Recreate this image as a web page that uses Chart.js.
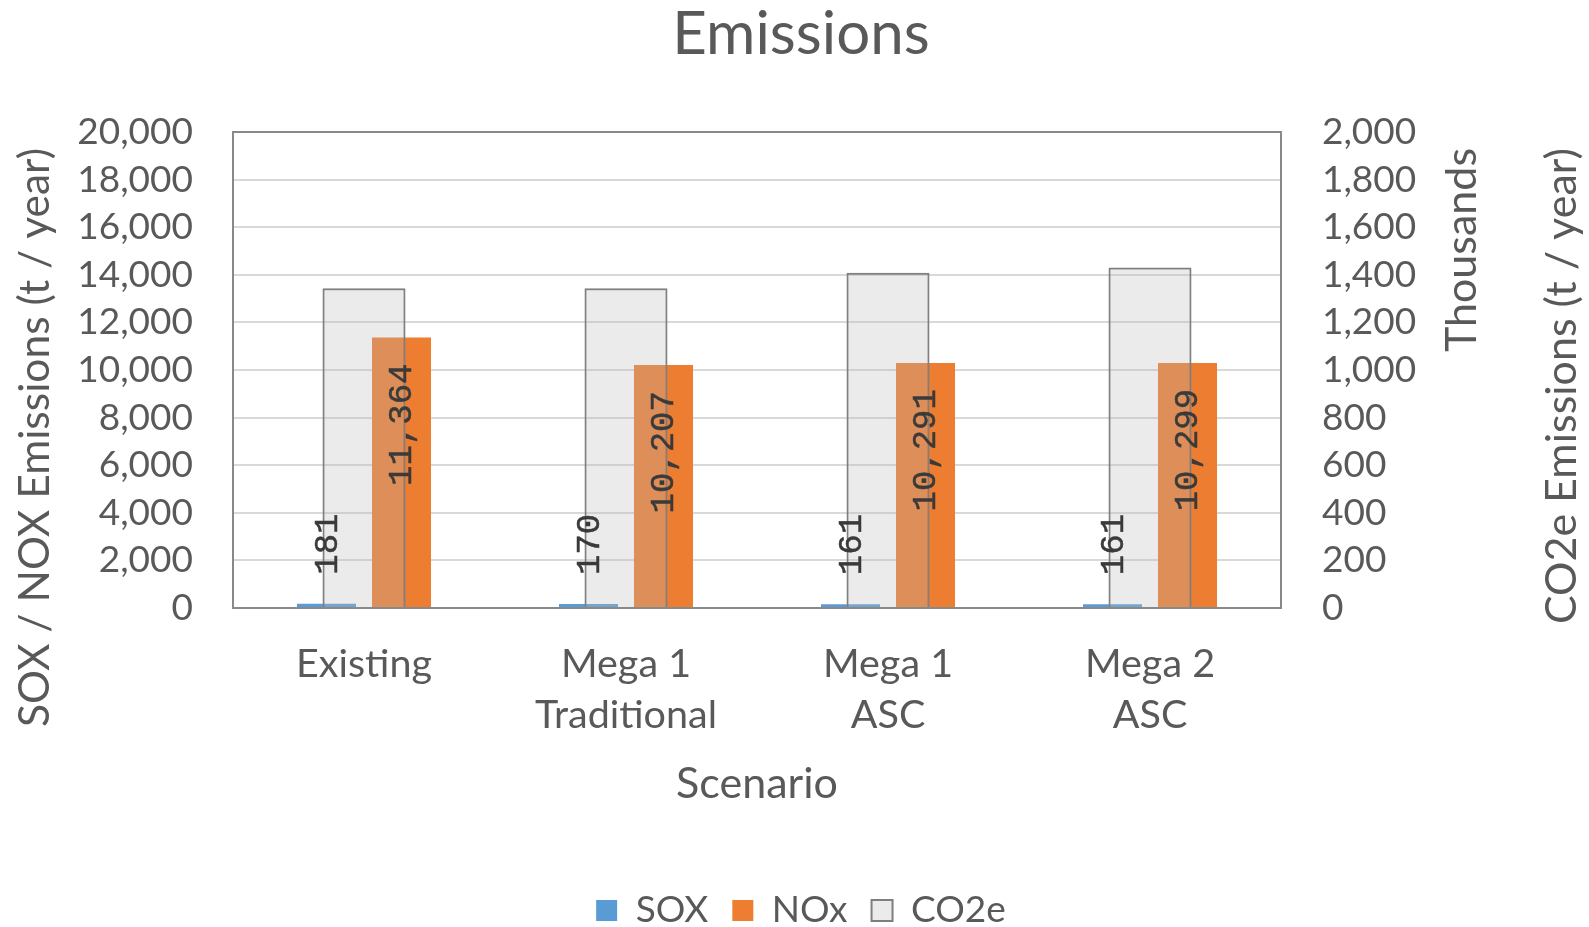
<!DOCTYPE html>
<html>
<head>
<meta charset="utf-8">
<title>Emissions</title>
<script src="https://cdn.jsdelivr.net/npm/chart.js@4/dist/chart.umd.min.js"></script>
<style>
  html, body { margin: 0; padding: 0; background: #ffffff; }
  #wrap { width: 1589px; height: 927px; position: relative; }
</style>
</head>
<body>
<div id="wrap"><canvas id="chart"></canvas></div>
<script>
// Scenario categories (multi-line labels are arrays)
const scenarios = ['Existing', ['Mega 1', 'Traditional'], ['Mega 1', 'ASC'], ['Mega 2', 'ASC']];

// Annual emissions per scenario, t / year
const soxTonnes = [181, 170, 161, 161];
const noxTonnes = [11364, 10207, 10291, 10299];
const co2eTonnes = [1343000, 1343000, 1409000, 1431000];

// Axis titles
const leftAxisTitle = 'SOX / NOX Emissions (t / year)';
const rightAxisTitle = ['CO2e Emissions (t / year)', 'Thousands'];
const bottomAxisTitle = 'Scenario';

const TEXT_GREY = '#595959';
const FONT = 'Lato';
const AXIS_TITLE_SIZE = 43;
const fmt = v => Number(v).toLocaleString('en-US');

// Rotated value labels on SOX (above the bar) and NOx (inside the top of the bar)
const barValueLabels = {
  id: 'barValueLabels',
  afterDatasetsDraw(chart) {
    const ctx = chart.ctx;
    ctx.save();
    ctx.font = '34px "Liberation Mono"';
    ctx.fillStyle = '#3a3a3a';
    ctx.strokeStyle = '#3a3a3a';
    ctx.lineWidth = 0.5;
    ctx.textBaseline = 'middle';
    chart.data.datasets.forEach((ds, di) => {
      const placement = ds.labelPlacement;
      if (!placement) return;
      const meta = chart.getDatasetMeta(di);
      meta.data.forEach((bar, i) => {
        const text = fmt(ds.data[i]);
        ctx.save();
        if (placement === 'outside') {
          ctx.translate(bar.x + 1, bar.y - 29);
          ctx.rotate(-Math.PI / 2);
          ctx.textAlign = 'left';
        } else {
          ctx.translate(bar.x + 1, bar.y + 26);
          ctx.rotate(-Math.PI / 2);
          ctx.textAlign = 'right';
        }
        ctx.fillText(text, 0, 0);
        ctx.strokeText(text, 0, 0);
        ctx.restore();
      });
    });
    ctx.restore();
  }
};

// Grey frame around the plot area
const plotFrame = {
  id: 'plotFrame',
  afterDatasetsDraw(chart) {
    const {ctx, chartArea: a} = chart;
    ctx.save();
    ctx.strokeStyle = '#898989';
    ctx.lineWidth = 2;
    ctx.strokeRect(a.left, a.top, a.right - a.left, a.bottom - a.top);
    ctx.restore();
  }
};

// Vertical axis titles, read bottom-to-top, top-aligned a little below the plot's top edge
const sideTitles = {
  id: 'sideTitles',
  afterDraw(chart) {
    const {ctx, chartArea} = chart;
    const yL = chart.scales.y, yR = chart.scales.y2;
    const top = chartArea.top + 16;
    const drawUp = (text, x, size) => {
      ctx.save();
      ctx.font = size + 'px ' + FONT;
      ctx.translate(x, top);
      ctx.rotate(-Math.PI / 2);
      ctx.textAlign = 'right';
      ctx.fillText(text, 0, 0);
      ctx.restore();
    };
    ctx.save();
    ctx.fillStyle = TEXT_GREY;
    ctx.textBaseline = 'middle';
    drawUp(leftAxisTitle, yL.right - 198, AXIS_TITLE_SIZE - 0.5);
    rightAxisTitle.forEach((line, k) => drawUp(line, yR.right - 27 - k * 100, AXIS_TITLE_SIZE));
    ctx.restore();
  }
};

const tickFont = {family: FONT, size: 37};

new Chart(document.getElementById('chart'), {
  type: 'bar',
  data: {
    labels: scenarios,
    datasets: [
      {
        label: 'SOX',
        data: soxTonnes,
        yAxisID: 'y',
        backgroundColor: '#5B9BD5',
        borderWidth: 0,
        order: 1,
        labelPlacement: 'outside'
      },
      {
        label: 'NOx',
        data: noxTonnes,
        yAxisID: 'y',
        backgroundColor: '#ED7D31',
        borderWidth: 0,
        order: 1,
        labelPlacement: 'inside'
      },
      {
        label: 'CO2e',
        data: co2eTonnes,
        yAxisID: 'y2',
        grouped: false,
        categoryPercentage: 1,
        barPercentage: 0.317,
        backgroundColor: 'rgba(186,186,186,0.29)',
        borderColor: '#7F7F7F',
        borderWidth: 2,
        order: 0
      }
    ]
  },
  options: {
    responsive: true,
    maintainAspectRatio: false,
    animation: false,
    categoryPercentage: 0.5725,
    barPercentage: 0.787,
    layout: {padding: {top: 0, left: 13, right: 0, bottom: -12}},
    plugins: {
      title: {
        display: true,
        text: 'Emissions',
        color: TEXT_GREY,
        font: {family: FONT, size: 60, weight: 'normal', lineHeight: 1.2},
        padding: {top: 35 - 60 * 0.6, bottom: 132 - 35 - 60 * 0.6}
      },
      legend: {
        position: 'bottom',
        labels: {
          font: {family: FONT, size: 37},
          color: TEXT_GREY,
          boxWidth: 21,
          boxHeight: 21,
          padding: 24,
          sort: (a, b) => a.datasetIndex - b.datasetIndex
        }
      },
      tooltip: {enabled: false}
    },
    scales: {
      x: {
        grid: {display: false, drawTicks: false},
        border: {display: false},
        ticks: {font: {family: FONT, size: 39.5, lineHeight: 51 / 39.5}, color: TEXT_GREY, padding: 30.5, maxRotation: 0, autoSkip: false},
        title: {
          display: true,
          text: bottomAxisTitle,
          color: TEXT_GREY,
          font: {family: FONT, size: AXIS_TITLE_SIZE, lineHeight: 1.2},
          padding: {top: 0, bottom: 58}
        },
        afterFit: s => { s.height = 260; }
      },
      y: {
        position: 'left',
        min: 0,
        max: 20000,
        grid: {color: '#D9D9D9', lineWidth: 2, drawTicks: false},
        border: {display: false},
        ticks: {stepSize: 2000, font: tickFont, color: TEXT_GREY, padding: 40, callback: v => fmt(v)},
        afterFit: s => { s.width = 220; }
      },
      y2: {
        position: 'right',
        min: 0,
        max: 2000000,
        grid: {display: false, drawTicks: false},
        border: {display: false},
        ticks: {stepSize: 200000, font: tickFont, color: TEXT_GREY, padding: 41, callback: v => fmt(v / 1000)},
        afterFit: s => { s.width = 308; }
      }
    }
  },
  plugins: [plotFrame, barValueLabels, sideTitles]
});
</script>
</body>
</html>
